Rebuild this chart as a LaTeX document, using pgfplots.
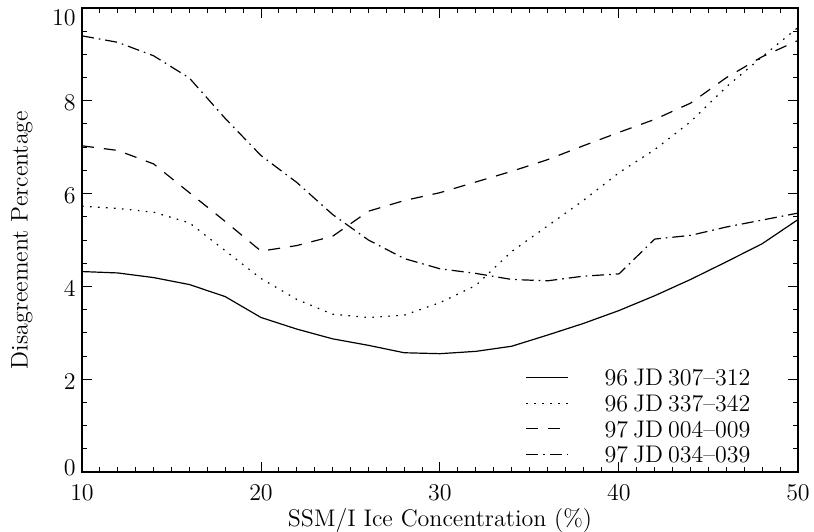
\documentclass[border=0pt]{standalone}
\usepackage{pgfplots}
\pgfplotsset{compat=1.18}

\pgfplotstableread{
x   a     b     c     d
10  4.32  5.73  7.03  9.40
12  4.29  5.68  6.93  9.26
14  4.19  5.60  6.64  8.97
16  4.04  5.37  6.02  8.49
18  3.78  4.77  5.40  7.62
20  3.33  4.17  4.76  6.82
22  3.08  3.72  4.88  6.24
24  2.87  3.40  5.08  5.55
26  2.73  3.33  5.62  5.00
28  2.57  3.38  5.85  4.60
30  2.55  3.65  6.02  4.38
32  2.60  4.02  6.25  4.28
34  2.71  4.75  6.48  4.15
36  2.95  5.30  6.73  4.12
38  3.20  5.85  7.03  4.22
40  3.48  6.45  7.32  4.27
42  3.80  6.95  7.60  5.02
44  4.15  7.55  7.95  5.10
46  4.53  8.30  8.50  5.28
48  4.92  8.95  8.95  5.43
50  5.44  9.58  9.30  5.58
}\disagree

\begin{document}
\begin{tikzpicture}
\begin{axis}[
    scale only axis,
    width=358pt, height=232pt,
    xmin=10, xmax=50, ymin=0, ymax=10,
    xtick={10,20,...,50}, ytick={0,2,...,10},
    yticklabels={\raisebox{3pt}[\height][\depth]{0},2,4,6,8,\raisebox{-4pt}[\height][\depth]{10}},
    minor x tick num=9, minor y tick num=3,
    tick align=inside,
    major tick length=5pt, minor tick length=2.5pt,
    tick style={black, line width=0.5pt},
    axis line style={line width=0.6pt},
    xlabel={SSM/I Ice Concentration (\%)},
    ylabel={Disagreement Percentage},
    label style={font=\large},
    tick label style={font=\large},
    xticklabel style={yshift=-3pt},
    yticklabel style={inner xsep=3pt, yshift=-1pt},
    xlabel style={at={(axis description cs:0.5,-0.1056)}, anchor=center},
    ylabel style={at={(axis description cs:-0.0838,0.5)}, anchor=center},
    legend style={at={(0.937,0.015)}, anchor=south east, draw=none, fill=none,
        font=\large, inner sep=0pt, row sep=2.6pt, column sep=17pt,
        nodes={inner sep=1pt, text height=8.2pt, text depth=0pt}},
    legend cell align=left,
    legend image code/.code={\draw[#1] (0pt,0pt) -- (21pt,0pt);},
    every axis plot/.append style={black, line width=0.6pt},
]
\addplot[solid] table[x=x, y=a] {\disagree};
\addlegendentry{96\hspace{2.5pt}JD\hspace{2.5pt}307--312}
\addplot[dash pattern=on 0.8pt off 3.2pt] table[x=x, y=b] {\disagree};
\addlegendentry{96\hspace{2.5pt}JD\hspace{2.5pt}337--342}
\addplot[dash pattern=on 6pt off 5pt] table[x=x, y=c] {\disagree};
\addlegendentry{97\hspace{2.5pt}JD\hspace{2.5pt}004--009}
\addplot[dash pattern=on 6pt off 2.5pt on 0.8pt off 2.5pt] table[x=x, y=d] {\disagree};
\addlegendentry{97\hspace{2.5pt}JD\hspace{2.5pt}034--039}
\end{axis}
\path (current axis.south west) ++(-41pt,-29.5pt) coordinate (bl);
\path (current axis.north east) ++(8pt,4pt) coordinate (tr);
\pgfresetboundingbox
\path[use as bounding box] (bl) rectangle (tr);
\end{tikzpicture}
\end{document}
